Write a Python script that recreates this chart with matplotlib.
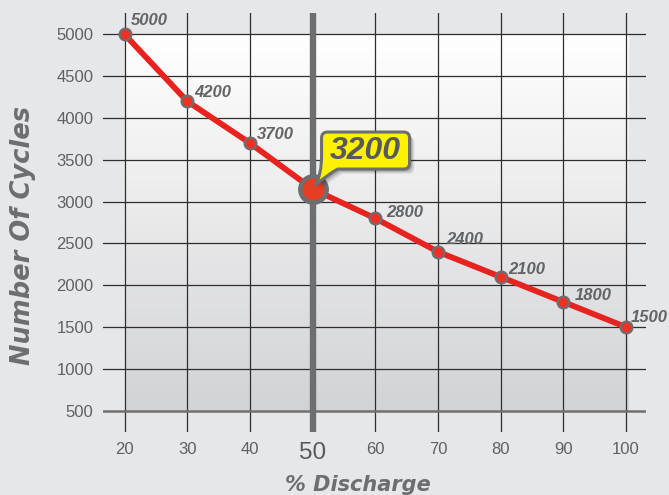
import numpy as np
import matplotlib
matplotlib.use("Agg")
import matplotlib.pyplot as plt
from matplotlib.path import Path
from matplotlib.patches import PathPatch
from matplotlib.colors import LinearSegmentedColormap
import matplotlib.transforms as mtransforms

# ---- data ----
discharge = [20, 30, 40, 50, 60, 70, 80, 90, 100]
cycles = [5000, 4200, 3700, 3150, 2800, 2400, 2100, 1800, 1500]
point_labels = ["5000", "4200", "3700", "3200", "2800", "2400", "2100", "1800", "1500"]
highlight_x = 50
y_ticks = [500, 1000, 1500, 2000, 2500, 3000, 3500, 4000, 4500, 5000]
x_ticks = [20, 30, 40, 50, 60, 70, 80, 90, 100]
x_title = "% Discharge"
y_title = "Number Of Cycles"

# label offsets in pixels (style)
label_offsets = [(6, 9), (7, 4), (7, 4), None, (11, 1), (8, 8), (8, 3), (11, 2), (5, 5)]

BG = "#e6e7e9"
GREY = "#6d6e70"
RED = "#e8231f"
NARROW = ["Liberation Sans Narrow", "Liberation Sans", "DejaVu Sans"]

fig = plt.figure(figsize=(6.69, 4.95), dpi=100, facecolor=BG)
W, H = 669, 495
ax = fig.add_axes([103 / W, 1 - 432 / H, 543 / W, 419 / H])
ax.set_facecolor(BG)

# plot-area gradient
cmap = LinearSegmentedColormap.from_list("g", ["#ffffff", "#d2d3d5"])
ax.imshow(np.linspace(0, 1, 256).reshape(-1, 1), cmap=cmap, aspect="auto",
          extent=[20, 100.35, 500, 5000], origin="upper", zorder=0)

ax.set_xlim(16.57, 103.19)
ax.set_ylim(245.3, 5254.7)

for s in ax.spines.values():
    s.set_visible(False)

ax.set_xticks(x_ticks)
ax.set_xticklabels([str(v) for v in x_ticks])
ax.set_yticks(y_ticks)
ax.set_yticklabels([str(v) for v in y_ticks])
ax.tick_params(length=0, labelsize=12, labelcolor="#5f6062")
ax.tick_params(axis="x", pad=7)
ax.tick_params(axis="y", pad=7)
for lab in ax.get_xticklabels() + ax.get_yticklabels():
    lab.set_family(["Liberation Sans", "DejaVu Sans"])
for lab, v in zip(ax.get_xticklabels(), x_ticks):
    if v == highlight_x:
        lab.set_fontsize(17.5)
        lab.set_color("#58595b")

ax.grid(True, color="#2e2e2e", lw=0.9)
ax.set_axisbelow("line")
ax.get_ygridlines()[0].set(color="#707070", lw=1.8)

# thick vertical line at 50%
ax.axvline(highlight_x, color=GREY, lw=4.6, zorder=1.6)

# curve
ax.plot(discharge, cycles, color=RED, lw=4.2, zorder=3, solid_capstyle="round")
xs = [x for x in discharge if x != highlight_x]
ys = [y for x, y in zip(discharge, cycles) if x != highlight_x]
ax.plot(xs, ys, "o", ms=8.5, mfc="#ee3124", mec=GREY, mew=1.6, zorder=4)
hy = cycles[discharge.index(highlight_x)]
ax.plot([highlight_x], [hy], "o", ms=19, mfc="#e63e25", mec=GREY, mew=3.2, zorder=5)

# data labels
for x, y, lab, off in zip(discharge, cycles, point_labels, label_offsets):
    if off is None:
        continue
    ax.annotate(lab, xy=(x, y), xytext=off, textcoords="offset pixels",
                ha="left", va="baseline", fontsize=12, fontweight="bold",
                fontstyle="italic", color="#636466", family=NARROW, zorder=6)

# callout bubble (vertices in pixels relative to the highlighted point)
r = 6
x0, x1, y0, y1 = 9, 97, 20, 57
verts = [(x0, 33), (x0, y1 - r), (x0, y1), (x0 + r, y1), (x1 - r, y1), (x1, y1), (x1, y1 - r),
         (x1, y0 + r), (x1, y0), (x1 - r, y0), (25, y0), (13, 13), (3, 4), (9, 15), (x0, 33), (x0, 33)]
codes = [Path.MOVETO, Path.LINETO, Path.CURVE3, Path.CURVE3, Path.LINETO, Path.CURVE3, Path.CURVE3,
         Path.LINETO, Path.CURVE3, Path.CURVE3, Path.LINETO, Path.CURVE3, Path.CURVE3, Path.CURVE3,
         Path.CURVE3, Path.CLOSEPOLY]
verts = [(vx / 100.0, vy / 100.0) for vx, vy in verts]
bubble = Path(verts, codes)
anchor = mtransforms.ScaledTranslation(highlight_x, hy, ax.transData)
for i, (dx, a) in enumerate([(5, 0.06), (4, 0.08), (3, 0.10), (2, 0.12)]):
    sh = mtransforms.Affine2D().translate(dx / 100.0, -dx / 100.0)
    ax.add_patch(PathPatch(bubble, transform=sh + fig.dpi_scale_trans + anchor,
                           facecolor="black", edgecolor="none", alpha=a, zorder=6.5))
ax.add_patch(PathPatch(bubble, transform=fig.dpi_scale_trans + anchor,
                       facecolor="#fff200", edgecolor=GREY, lw=2.2, zorder=7,
                       joinstyle="round"))
ax.annotate(point_labels[discharge.index(highlight_x)], xy=(highlight_x, hy),
            xytext=(53, 38.5), textcoords="offset pixels", ha="center", va="center",
            fontsize=23, fontweight="bold", fontstyle="italic", color="#58595b",
            family=NARROW, zorder=8)

# axis titles
fig.text(23 / W, 1 - 235 / H, y_title, rotation=90, ha="center", va="center",
         fontsize=18.5, fontweight="bold", fontstyle="italic", color=GREY, family="DejaVu Sans")
fig.text(358 / W, 1 - 485 / H, x_title, ha="center", va="center",
         fontsize=15, fontweight="bold", fontstyle="italic", color=GREY, family="DejaVu Sans")

fig.savefig("out.png", dpi=100, facecolor=BG)
